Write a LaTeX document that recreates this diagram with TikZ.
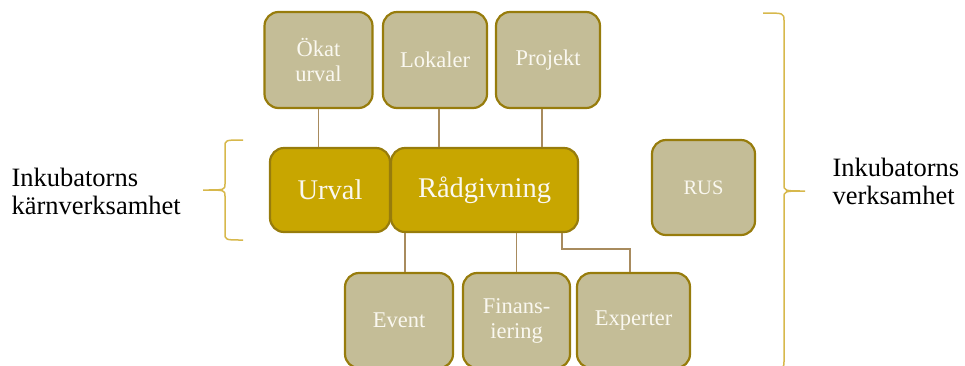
\documentclass[tikz,border=0pt]{standalone}
\usepackage{fontspec}
\setmainfont{Liberation Serif}
\usepackage{tikz}
\usetikzlibrary{positioning}

\definecolor{tanfill}{HTML}{C4BD97}
\definecolor{goldfill}{HTML}{C8A600}
\definecolor{goldline}{HTML}{977C0C}
\definecolor{linkline}{HTML}{A88B5E}
\definecolor{braceline}{HTML}{D7B84C}
\definecolor{boxtext}{HTML}{FAF8F0}

\begin{document}
\begin{tikzpicture}[x=1pt, y=-1pt]
	\tikzstyle{unit} = [draw=goldline, line width=2.2pt, fill=tanfill, rounded corners=14pt, inner sep=0pt,
		text=boxtext, align=center, font=\fontsize{22.5}{25}\selectfont]
	\tikzstyle{core} = [unit, fill=goldfill, font=\fontsize{28.5}{32}\selectfont]
	\tikzstyle{link} = [draw=linkline, line width=1.3pt]
	\tikzstyle{curly} = [draw=braceline, line width=1.5pt]

	\clip (0,0) rectangle (965,365);

	% top row
	\node[unit, minimum width=108pt, minimum height=96pt] (okat) at (318.5,60) {Ökat\\urval};
	\node[unit, minimum width=104pt, minimum height=96pt] (lokaler) at (435,60) {Lokaler};
	\node[unit, minimum width=104pt, minimum height=96pt] (projekt) at (548,60) {Projekt};

	% core row
	\node[core, minimum width=120pt, minimum height=84pt] (urval) at (330,190) {Urval};
	\node[core, minimum width=187pt, minimum height=84pt] (radgivning) at (484.5,190) {Rådgivning};
	\node[unit, minimum width=103pt, minimum height=95pt, font=\fontsize{20.5}{24}\selectfont] (rus) at (703.5,187.5) {RUS};

	% bottom row
	\node[unit, minimum width=108pt, minimum height=95pt] (event) at (399,320.5) {Event};
	\node[unit, minimum width=107pt, minimum height=95pt] (finans) at (516.5,320.5) {Finans-\\iering};
	\node[unit, minimum width=113pt, minimum height=95pt] (experter) at (633.5,320.5) {Experter};

	\path[link]
		(okat.south) -- (okat.south |- urval.north)
		([xshift=4pt]lokaler.south) -- ([xshift=4pt]lokaler.south |- radgivning.north)
		([xshift=-6pt]projekt.south) -- ([xshift=-6pt]projekt.south |- radgivning.north)
		([xshift=6pt]event.north) -- ([xshift=6pt]event.north |- radgivning.south)
		(finans.north) -- (finans.north |- radgivning.south)
		([xshift=77.5pt]radgivning.south) -- ++(0,16) -| ([xshift=-3.5pt]experter.north)
	;

	% braces
	\coordinate (ktop) at (243,140);
	\coordinate (ktip) at (203,190);
	\coordinate (kbot) at (243,240);
	\draw[curly] (ktop) .. controls (225,140) .. (225,147) -- (225,184)
		.. controls (225,190) .. (ktip) .. controls (225,190) .. (225,196)
		-- (225,233) .. controls (225,240) .. (kbot);
	\coordinate (vtop) at (763,13);
	\coordinate (vtip) at (805,191);
	\coordinate (vbot) at (763,369);
	\draw[curly] (vtop) .. controls (784,13) .. (784,21) -- (784,184)
		.. controls (784,191) .. (vtip) .. controls (784,191) .. (784,198)
		-- (784,361) .. controls (784,369) .. (vbot);

	\node[align=left, anchor=west, font=\fontsize{26.5}{28}\selectfont] (karn) at (8,191) {Inkubatorns\\kärnverksamhet};
	\node[align=left, anchor=west, font=\fontsize{26.5}{28}\selectfont] (verk) at (829,181) {Inkubatorns\\verksamhet};
\end{tikzpicture}
\end{document}
